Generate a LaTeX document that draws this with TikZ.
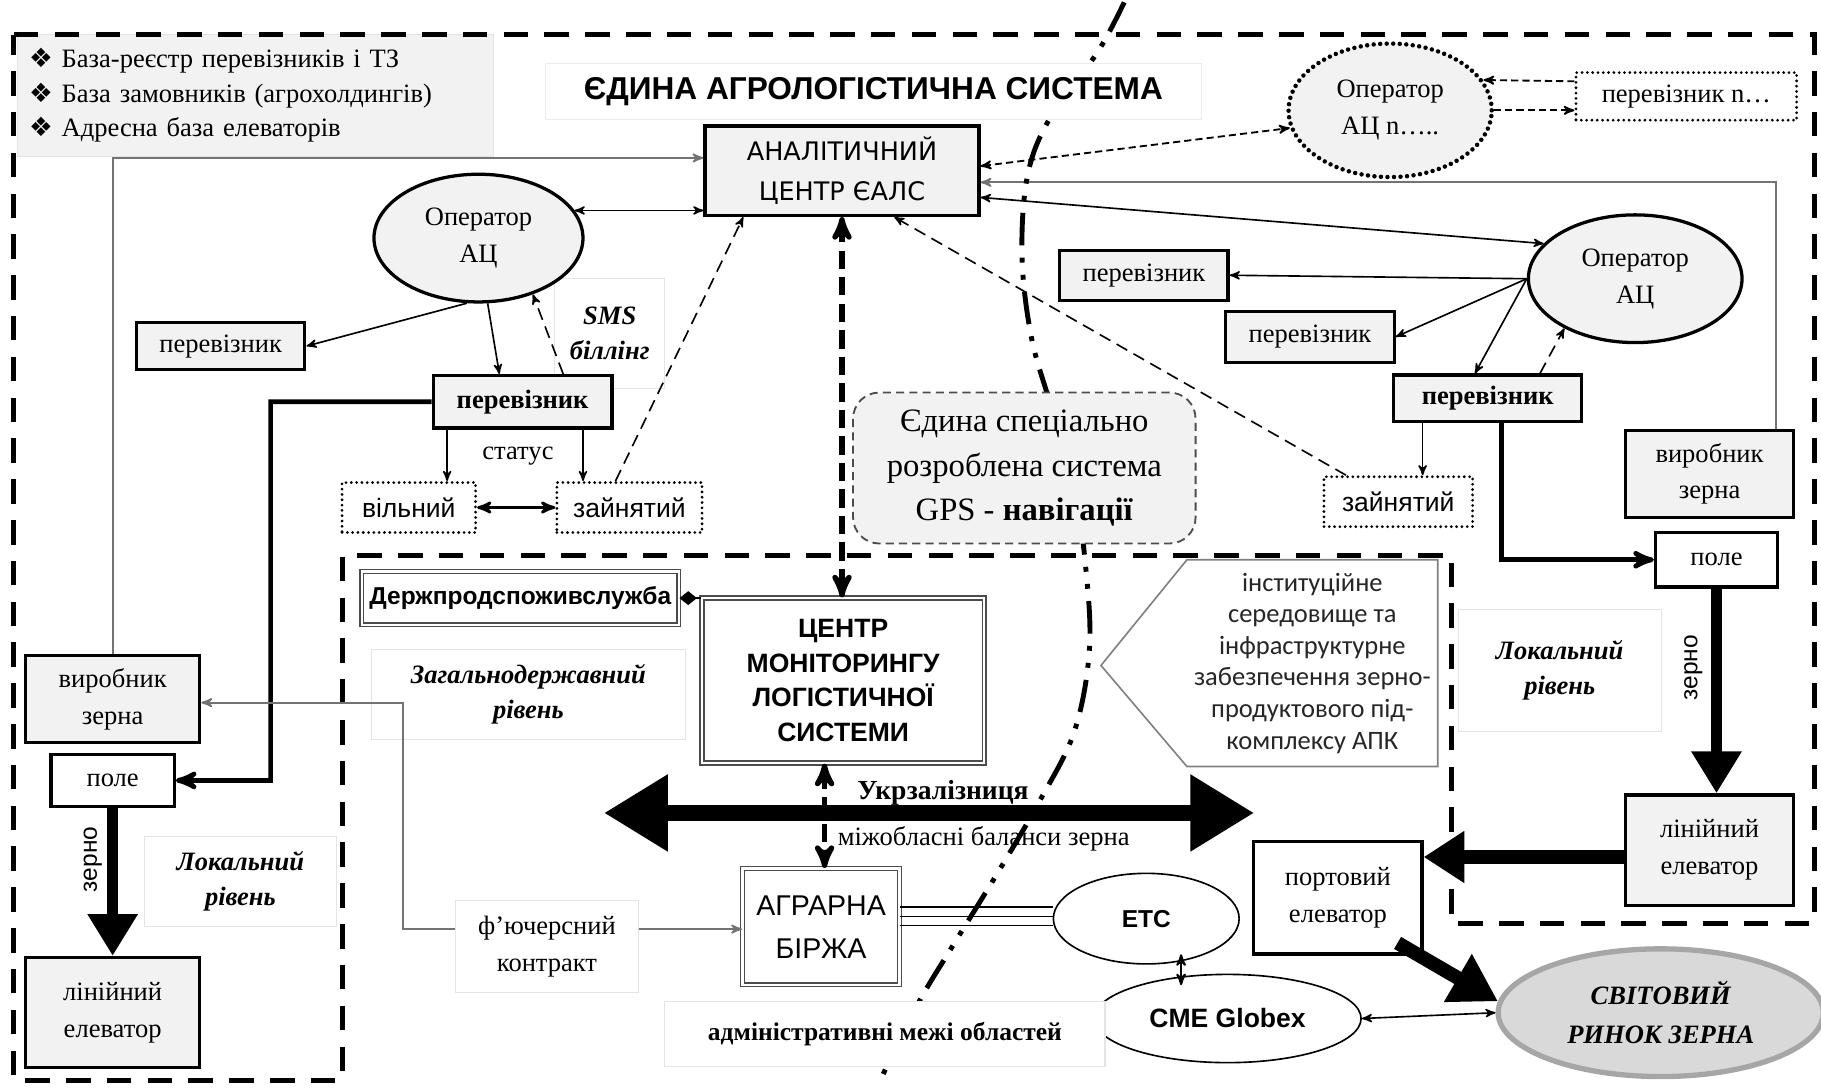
\documentclass[tikz,border=0pt]{standalone}
\usepackage{fontspec}
\setmainfont{Liberation Serif}
\newfontfamily\sansf{Liberation Sans}
\newfontfamily\gothf{DejaVu Sans}
\newfontfamily\instf{Carlito}
\newfontfamily\symf{DejaVu Sans}
\usetikzlibrary{arrows,arrows.meta,positioning,shapes.geometric}
\definecolor{boxgray}{HTML}{F2F2F2}
\definecolor{worldgray}{HTML}{D9D9D9}
\definecolor{worldedge}{HTML}{A6A6A6}
\definecolor{faintedge}{HTML}{E4E4E4}
\tikzset{
    blk/.style={
           rectangle,
           draw=black,
           line width=1.6pt,
           fill=boxgray,
           inner sep=2pt,
           align=center,
           },
    wbox/.style={blk, fill=white},
    dotbox/.style={rectangle, draw=black, line width=1.5pt, line cap=round,
           dash pattern=on 0pt off 2.6pt, fill=white, align=center,
           font=\sansf\fontsize{13}{16}\selectfont},
    oper/.style={ellipse, draw=black, line width=1.6pt, fill=boxgray,
           inner sep=0pt, align=center},
    dblbox/.style={rectangle, draw=black!70, line width=0.7pt, double,
           double distance=1.2pt, fill=white, align=center},
    faint/.style={rectangle, draw=faintedge, line width=0.5pt, fill=white, align=center},
    lvl/.style={font=\fontsize{13}{17}\selectfont\bfseries\itshape},
    conn/.style={->, line width=0.8pt},
    dconn/.style={conn, dash pattern=on 6pt off 3.5pt},
    thinconn/.style={->, line width=0.9pt, draw=black!55},
    heavy/.style={->, line width=2.3pt},
    hdash/.style={<->, line width=2.6pt, dash pattern=on 9pt off 4pt},
    fat/.style={line width=5.7pt, -{Triangle[length=0.72cm,width=0.82cm]}},
    outerframe/.style={line width=2.4pt, dash pattern=on 12pt off 8pt},
    admline/.style={line width=2.4pt, dash pattern=on 16pt off 6pt on 2.4pt off 6pt on 2.4pt off 6pt},
}
\begin{document}
\begin{tikzpicture}[x=0.02cm,y=-0.02cm,>=stealth',font=\fontsize{13}{18}\selectfont]
\useasboundingbox (0,0) rectangle (1568,936);

% labels in light frames
\node[faint,fill=boxgray,minimum width=8.2cm,minimum height=2.1cm,text width=7.8cm,align=left,
      font=\fontsize{13}{16.7}\selectfont](bases) at (220,82){%
  {\symf ❖} База-реєстр перевізників і ТЗ\\
  {\symf ❖} База замовників (агрохолдингів)\\
  {\symf ❖} Адресна база елеваторів};
\node[faint,lvl,minimum width=1.9cm,minimum height=1.9cm](sms) at (525,287){SMS\\біллінг};
\node[faint,lvl,minimum width=5.4cm,minimum height=1.54cm](zag) at (455,598){Загальнодержавний\\рівень};
\node[faint,lvl,minimum width=3.3cm,minimum height=1.56cm](locl) at (207,759){Локальний\\рівень};
\node[faint,lvl,minimum width=3.5cm,minimum height=2.1cm](locr) at (1343,577){Локальний\\рівень};
\node[faint,minimum width=3.14cm,minimum height=1.6cm](fut) at (471,815){ф’ючерсний\\контракт};

% frame of the system
\draw[outerframe] (12,30) -- (1562,30) -- (1562,795) -- (1250,795) -- (1250,478)
      -- (295,478) -- (295,930) -- (12,930) -- cycle;

% left part
\node[oper,minimum width=3.6cm,minimum height=2.2cm](opl) at (412,205){Оператор\\АЦ};
\node[blk,minimum width=2.9cm,minimum height=0.8cm](carl) at (190,298){перевізник};
\node[blk,minimum width=3.08cm,minimum height=0.9cm,font=\fontsize{13}{17}\selectfont\bfseries](carlb) at (450,346){перевізник};
\node(status) at (446,393){статус};
\node[dotbox,minimum width=2.3cm,minimum height=0.86cm](freel) at (352,437){вільний};
\node[dotbox,minimum width=2.5cm,minimum height=0.86cm](busyl) at (542,437){зайнятий};
\node[blk,minimum width=3cm,minimum height=1.5cm](prodl) at (97,602){виробник\\зерна};
\node[wbox,below of=prodl,node distance=1.4cm,minimum width=2.12cm,minimum height=0.9cm](fieldl){поле};
\node[blk,below of=fieldl,node distance=4cm,minimum width=3cm,minimum height=1.9cm](elevl){лінійний\\елеватор};
\node[font=\sansf\fontsize{12}{14}\selectfont,rotate=90](zernol) at (80,740){зерно};

% centre
\node[blk,minimum width=4.72cm,minimum height=1.54cm,font=\gothf\fontsize{12.5}{19.5}\selectfont](ac) at (725,147){АНАЛІТИЧНИЙ\\ЦЕНТР ЄАЛС};
\node[dblbox,minimum width=5.46cm,minimum height=0.92cm,font=\sansf\bfseries\fontsize{12}{14}\selectfont](derzh) at (448,515){Держпродспоживслужба};
\node[dblbox,minimum width=4.86cm,minimum height=2.84cm,font=\sansf\bfseries\fontsize{13}{17}\selectfont](cmon) at (726,586){ЦЕНТР\\МОНІТОРИНГУ\\ЛОГІСТИЧНОЇ\\СИСТЕМИ};
\node[dblbox,minimum width=2.7cm,minimum height=2cm,font=\sansf\fontsize{14}{21}\selectfont](birzha) at (707,798){АГРАРНА\\БІРЖА};
\node[font=\fontsize{13.5}{16}\selectfont\bfseries](ukr) at (812,683){Укрзалізниця};
\node(mizh) at (847,722){міжобласні баланси зерна};
\node[oper,fill=white,line width=0.8pt,minimum width=3.2cm,minimum height=1.56cm,font=\sansf\bfseries\fontsize{12}{14}\selectfont](etc) at (987,791){ETC};
\node[oper,fill=white,line width=0.8pt,minimum width=4.6cm,minimum height=1.52cm,font=\sansf\bfseries\fontsize{13}{15}\selectfont](cme) at (1057,877){CME Globex};
\draw[draw=black!50,line width=0.8pt,fill=white] (948,573) -- (1022,482) -- (1238,482) -- (1238,660) -- (1022,660) -- cycle;
\node[font=\instf\fontsize{13}{15.5}\selectfont,align=center,text=black!85](inst) at (1130,571){інституційне\\середовище та\\інфраструктурне\\забезпечення зерно-\\продуктового під-\\комплексу АПК};

% right part
\node[oper,dash pattern=on 0pt off 3.2pt,line cap=round,line width=2.2pt,minimum width=3.5cm,minimum height=2.3cm](opn) at (1197,95){Оператор\\АЦ n…..};
\node[dotbox,font=\fontsize{13}{16}\selectfont,minimum width=3.8cm,minimum height=0.82cm](carn) at (1452,83){перевізник n…};
\node[oper,minimum width=3.68cm,minimum height=2.2cm](opr) at (1408,240){Оператор\\АЦ};
\node[blk,minimum width=2.9cm,minimum height=0.86cm](carr1) at (985,237){перевізник};
\node[blk,minimum width=2.9cm,minimum height=0.88cm](carr2) at (1128,290){перевізник};
\node[blk,minimum width=3.24cm,minimum height=0.8cm,font=\fontsize{13}{17}\selectfont\bfseries](carrb) at (1281,343){перевізник};
\node[dotbox,minimum width=2.56cm,minimum height=0.86cm](busyr) at (1204,432){зайнятий};
\node[blk,minimum width=2.9cm,minimum height=1.5cm](prodr) at (1472,408){виробник\\зерна};
\node[wbox,below of=prodr,node distance=1.48cm,xshift=0.12cm,minimum width=2.1cm,minimum height=0.94cm](fieldr){поле};
\node[blk,below of=fieldr,node distance=5cm,xshift=-0.12cm,minimum width=2.9cm,minimum height=1.9cm](elevr){лінійний\\елеватор};
\node[font=\sansf\fontsize{12}{14}\selectfont,rotate=90](zernor) at (1458,575){зерно};
\node[wbox,minimum width=2.9cm,minimum height=1.94cm](port) at (1152,773){портовий\\елеватор};
\node[oper,fill=worldgray,draw=worldedge,line width=2.6pt,minimum width=5.6cm,minimum height=2.2cm,
      font=\fontsize{13}{19}\selectfont\bfseries\itshape](world) at (1430,872){СВІТОВИЙ\\РИНОК ЗЕРНА};

\coordinate (lbend) at (233,672);
\coordinate (futbend) at (347,605);
\coordinate (ukrw) at (520,700);
\coordinate (ukre) at (1080,700);

% connectors, left
\draw[<->,line width=0.8pt] (opl.16) -- (opl.16 -| ac.west);
\draw[thinconn] (prodl.north) |- ([yshift=0.22cm]ac.west);
\draw[conn] (opl.260) -- (carl.east);
\draw[conn] (opl.278) -- ([xshift=-0.4cm]carlb.north);
\draw[dconn] ([xshift=0.7cm]carlb.north) -- (opl.314);
\draw[conn] ([xshift=0.66cm]freel.north |- carlb.south) -- ([xshift=0.66cm]freel.north);
\draw[conn] ([xshift=-0.8cm]busyl.north |- carlb.south) -- ([xshift=-0.8cm]busyl.north);
\draw[<->,line width=1.4pt] (freel.east) -- (busyl.west);
\draw[dconn] ([xshift=-0.24cm]busyl.north) -- ([xshift=-1.7cm]ac.south);
\draw[heavy] (carlb.west) -| (lbend) -- (fieldl.east);
\draw[fat] (fieldl.south) -- (elevl.north);
\draw[thinconn] ([yshift=0.3cm]fut.west) -| (futbend) -- (futbend -| prodl.east);
\draw[thinconn] ([yshift=0.3cm]fut.east) -- ([yshift=0.3cm]fut.east -| birzha.west);

% connectors, centre
\draw[hdash] (ac.south) -- (ac.south |- cmon.north);
\draw[line width=8pt,{Triangle[length=1.1cm,width=1.25cm]}-{Triangle[length=1.1cm,width=1.25cm]}] (ukrw) -- (ukre);
\draw[hdash] ([xshift=-0.32cm]cmon.south) -- ([xshift=-0.32cm]cmon.south |- birzha.north);
\draw[line width=0.8pt,{Diamond[length=0.3cm,width=0.24cm]}-] (derzh.east) -- (derzh.east -| cmon.west);
\foreach \dy in {0.02,0.18,0.34}
  \draw[line width=0.7pt] ([yshift=\dy cm]birzha.east) -- ([yshift=\dy cm]birzha.east -| etc.west);
\draw[<->,line width=1pt] ([xshift=0.6cm,yshift=0.18cm]etc.south) -- ([xshift=0.6cm,yshift=-0.2cm]etc.south |- cme.north);
\draw[<->,line width=0.8pt] (cme.east) -- (world.west);

% connectors, right
\draw[<->,line width=0.9pt,dash pattern=on 3.5pt off 2pt] ([yshift=0.08cm]ac.east) -- (opn.190);
\draw[->,line width=0.9pt,dash pattern=on 3.5pt off 2pt] ([yshift=0.26cm]carn.west) -- (opn.18);
\draw[->,line width=0.9pt,dash pattern=on 3.5pt off 2pt] (opn.east) -- (opn.east -| carn.west);
\draw[thinconn] ([xshift=1.15cm]prodr.north) |- ([yshift=-0.2cm]ac.east);
\draw[<->,line width=0.8pt] ([yshift=-0.46cm]ac.east) -- (opr.159);
\draw[conn] (opr.west) -- (carr1.east);
\draw[conn] (opr.west) -- (carr2.east);
\draw[conn] (opr.west) -- ([xshift=-0.22cm]carrb.north);
\draw[dconn] ([xshift=0.9cm]carrb.north) -- (opr.215);
\draw[conn] ([xshift=0.42cm]busyr.north |- carrb.south) -- ([xshift=0.42cm]busyr.north);
\draw[dconn] ([xshift=-0.9cm]busyr.north) -- ([xshift=0.9cm]ac.south);
\draw[heavy] ([xshift=0.24cm]carrb.south) |- (fieldr.west);
\draw[fat] (fieldr.south) -- (fieldr.south |- elevr.north);
\draw[line width=6.8pt,-{Triangle[length=0.7cm,width=0.85cm]}] ([yshift=-0.12cm]elevr.west) -- ([yshift=-0.12cm]elevr.west -| port.east);
\draw[line width=6.8pt,-{Triangle[length=0.8cm,width=0.9cm]}] ([xshift=-0.45cm,yshift=0.22cm]port.south east) -- (world.176);

% administrative boundary
\draw[admline] plot[smooth,tension=0.6] coordinates {(968,2) (945,45) (905,100) (885,150) (880,220)
      (888,290) (905,350) (925,420) (935,490) (938,560) (925,630) (895,690) (860,750) (820,815) (790,865) (758,930)};

\node[faint,draw=black!8,minimum width=11.3cm,minimum height=0.96cm,font=\sansf\bfseries\fontsize{15.5}{18}\selectfont](title) at (752,79){ЄДИНА АГРОЛОГІСТИЧНА СИСТЕМА};
\node[rectangle,rounded corners=0.45cm,draw=black!70,line width=0.9pt,dash pattern=on 4pt off 2.5pt,fill=boxgray,
      minimum width=5.9cm,minimum height=2.6cm,align=center,font=\fontsize{16}{22}\selectfont](gps) at (882,403){Єдина спеціально\\розроблена система\\GPS - \textbf{навігації}};
\node[faint,minimum width=7.58cm,minimum height=1.12cm,font=\fontsize{12.5}{15}\selectfont\bfseries](adm) at (762,890){адміністративні межі областей};
\end{tikzpicture}
\end{document}
